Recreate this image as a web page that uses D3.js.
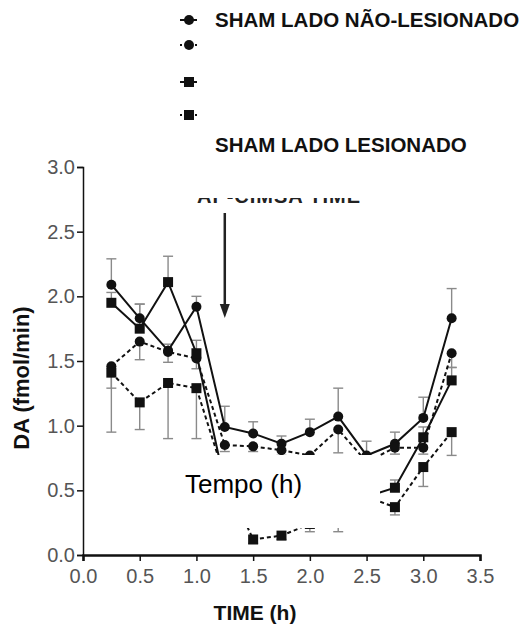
<!DOCTYPE html>
<html>
<head>
<meta charset="utf-8">
<script src="https://d3js.org/d3.v7.min.js"></script>
<style>
  body { margin: 0; background: #ffffff; }
  text { font-family: "Liberation Sans", Arial, sans-serif; }
  .tick text { font-size: 20px; fill: #555555; }
  .axis path, .axis line { stroke: #111111; }
</style>
</head>
<body>
<div id="container"></div>
<script>
// data
const times = [0.25, 0.5, 0.75, 1.0, 1.25, 1.5, 1.75, 2.0, 2.25, 2.5, 2.75, 3.0, 3.25];

const circSolid  = [2.09, 1.83, 1.58, 1.92, 0.99, 0.94, 0.86, 0.95, 1.07, 0.77, 0.86, 1.06, 1.83];
const circDash   = [1.46, 1.65, 1.57, 1.52, 0.85, 0.84, 0.81, 0.77, 0.97, 0.72, 0.83, 0.83, 1.56];
const sqSolid    = [1.95, 1.75, 2.11, 1.56, 0.55, 0.42, 0.38, 0.40, 0.42, 0.45, 0.52, 0.91, 1.35];
const sqDash     = [1.41, 1.18, 1.33, 1.29, 0.60, 0.12, 0.15, 0.24, 0.26, 0.45, 0.37, 0.68, 0.95];

// error bars (SEM), solid series drawn upward, dashed downward
const errCircSolid = [0.20, 0.11, 0.05, 0.08, 0.16, 0.09, 0.06, 0.10, 0.22, 0.11, 0.09, 0.16, 0.23];
const errCircDash  = [0.17, 0.14, 0.08, 0.08, 0.05, 0.04, 0.04, 0.05, 0.18, 0.05, 0.05, 0.05, 0.11];
const errSqSolid   = [0.08, 0.19, 0.20, 0.10, 0.05, 0.05, 0.05, 0.05, 0.05, 0.05, 0.06, 0.08, 0.10];
const errSqDash    = [0.46, 0.21, 0.43, 0.39, 0.05, 0.03, 0.03, 0.06, 0.08, 0.05, 0.06, 0.15, 0.18];

const xTicks = [0.0, 0.5, 1.0, 1.5, 2.0, 2.5, 3.0, 3.5];
const yTicks = [0.0, 0.5, 1.0, 1.5, 2.0, 2.5, 3.0];

const legendLabels = ["SHAM LADO NÃO-LESIONADO", "", "", "SHAM LADO LESIONADO"];

const series = [
  {vals: circSolid, err: errCircSolid, dir: 1,  shape: "circle", dash: null},
  {vals: circDash,  err: errCircDash,  dir: -1, shape: "circle", dash: "4,3"},
  {vals: sqSolid,   err: errSqSolid,   dir: 1,  shape: "square", dash: null},
  {vals: sqDash,    err: errSqDash,    dir: -1, shape: "square", dash: "4,3"}
];

const svg = d3.select("#container")
  .append("svg")
  .attr("width", 531)
  .attr("height", 631);

const x = d3.scaleLinear().domain([0, 3.5]).range([83, 480]);
const y = d3.scaleLinear().domain([0, 3]).range([555, 167]);

// axes
svg.append("g")
  .attr("class", "axis")
  .attr("transform", "translate(0,555)")
  .call(d3.axisBottom(x).tickValues(xTicks).tickFormat(d3.format(".1f")).tickSizeOuter(0).tickSize(6).tickPadding(8))
  .call(g => g.select(".domain").attr("stroke-width", 2.5))
  .call(g => g.selectAll(".tick line").attr("stroke-width", 1.5));

svg.append("g")
  .attr("class", "axis")
  .attr("transform", "translate(83,0)")
  .call(d3.axisLeft(y).tickValues(yTicks).tickFormat(d3.format(".1f")).tickSizeOuter(0).tickSize(6).tickPadding(2))
  .call(g => g.select(".domain").attr("stroke-width", 1.5))
  .call(g => g.selectAll(".tick line").attr("stroke-width", 1.5));

svg.append("text")
  .attr("x", 255).attr("y", 620)
  .attr("text-anchor", "middle")
  .style("font-size", "21px").style("font-weight", "bold").style("fill", "#111")
  .text("TIME (h)");

svg.append("text")
  .attr("transform", "translate(29,378) rotate(-90)")
  .attr("text-anchor", "middle")
  .style("font-size", "22px").style("font-weight", "bold").style("fill", "#111")
  .text("DA (fmol/min)");

// error bars
series.forEach(s => {
  const g = svg.append("g");
  times.forEach((t, i) => {
    const v0 = y(s.vals[i]), v1 = y(s.vals[i] + s.dir * s.err[i]);
    g.append("line")
      .attr("x1", x(t)).attr("x2", x(t)).attr("y1", v0).attr("y2", v1)
      .attr("stroke", "#8a8a8a").attr("stroke-width", 1.4);
    g.append("line")
      .attr("x1", x(t) - 5).attr("x2", x(t) + 5).attr("y1", v1).attr("y2", v1)
      .attr("stroke", "#8a8a8a").attr("stroke-width", 1.4);
  });
});

// lines
const line = d3.line().x((d, i) => x(times[i])).y(d => y(d));
series.forEach(s => {
  svg.append("path")
    .datum(s.vals)
    .attr("d", line)
    .attr("fill", "none")
    .attr("stroke", "#111")
    .attr("stroke-width", 2)
    .attr("stroke-dasharray", s.dash);
});

// markers
function drawMarker(g, shape, cx, cy) {
  if (shape === "circle") {
    g.append("circle").attr("cx", cx).attr("cy", cy).attr("r", 5).attr("fill", "#111");
  } else {
    g.append("rect").attr("x", cx - 5).attr("y", cy - 5).attr("width", 10).attr("height", 10).attr("fill", "#111");
  }
}
series.forEach(s => {
  const g = svg.append("g");
  s.vals.forEach((v, i) => drawMarker(g, s.shape, x(times[i]), y(v)));
});

// arrow
svg.append("line")
  .attr("x1", x(1.25)).attr("x2", x(1.25))
  .attr("y1", 213).attr("y2", 306)
  .attr("stroke", "#222").attr("stroke-width", 2.5);
svg.append("path")
  .attr("d", `M${x(1.25) - 5},304 L${x(1.25) + 5},304 L${x(1.25)},318 Z`)
  .attr("fill", "#222");

// partly hidden heading above arrow
svg.append("text")
  .attr("x", 197).attr("y", 203)
  .attr("textLength", 163)
  .style("font-size", "20px").style("font-weight", "bold").style("fill", "#222")
  .text("AP-CIMSA TIME");
svg.append("rect")
  .attr("x", 150).attr("y", 160).attr("width", 260).attr("height", 38)
  .attr("fill", "#fff");

// legend
const legendY = [20, 45, 82, 115];
series.forEach((s, i) => {
  const g = svg.append("g");
  g.append("line")
    .attr("x1", 180).attr("x2", 197).attr("y1", legendY[i]).attr("y2", legendY[i])
    .attr("stroke", "#111").attr("stroke-width", 2)
    .attr("stroke-dasharray", s.dash ? "2,3" : null);
  drawMarker(g, s.shape, 189, legendY[i]);
});
svg.append("text")
  .attr("x", 215).attr("y", 27)
  .style("font-size", "20.5px").style("font-weight", "bold").style("fill", "#111")
  .text(legendLabels[0]);
svg.append("text")
  .attr("x", 215).attr("y", 152)
  .style("font-size", "20.5px").style("font-weight", "bold").style("fill", "#111")
  .text(legendLabels[3]);

// white label box over the plot
svg.append("rect")
  .attr("x", 180).attr("y", 455).attr("width", 200).attr("height", 73)
  .attr("fill", "#fff");
svg.append("text")
  .attr("x", 185).attr("y", 493)
  .style("font-size", "26px").style("fill", "#000")
  .text("Tempo (h)");
</script>
</body>
</html>
